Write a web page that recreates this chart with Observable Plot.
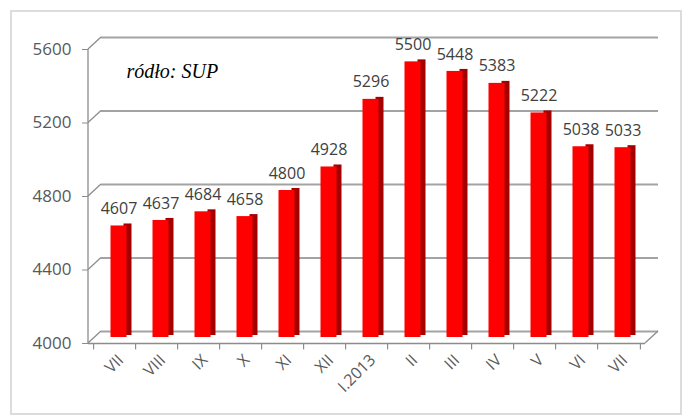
<!DOCTYPE html>
<html><head><meta charset="utf-8">
<script src="https://cdn.jsdelivr.net/npm/d3@7"></script>
<script src="https://cdn.jsdelivr.net/npm/@observablehq/plot@0.6"></script>
<style>
body{margin:0;background:#fff;}
#wrap{position:relative;width:690px;height:419px;}
#border{position:absolute;left:10px;top:10px;width:672px;height:405px;border:2px solid #dcdcdc;box-sizing:border-box;pointer-events:none;}
#wrap svg{position:absolute;left:0;top:0;}
</style>
</head><body>
<div id="wrap"><div id="border"></div></div>
<script>
const months = ["VII","VIII","IX","X","XI","XII","I.2013","II","III","IV","V","VI","VII"];
const values = [4607,4637,4684,4658,4800,4928,5296,5500,5448,5383,5222,5038,5033];
const yTicks = [4000,4400,4800,5200,5600];
const note = "ródło: SUP";

const data = values.map((v, i) => ({i, v}));
const idx = d3.range(months.length);
const DX = 13, DY = -12;       // depth of the 3D box
const step = (690 - 88 - 45) / months.length;

const frame3d = Plot.ruleY(yTicks, {
  render(I, scales, values, dims) {
    const g = d3.create("svg:g").attr("stroke", "#8c8c8c").attr("stroke-width", 1.3).attr("fill", "none");
    const L = dims.marginLeft, R = dims.width - dims.marginRight;
    for (const t of yTicks) {
      const y = scales.y(t);
      g.append("line").attr("x1", L).attr("y1", y).attr("x2", L + DX).attr("y2", y + DY);
    }
    const y0 = scales.y(yTicks[0]);
    g.append("line").attr("x1", R).attr("y1", y0).attr("x2", R + DX).attr("y2", y0 + DY);
    g.append("line").attr("x1", L).attr("y1", scales.y(yTicks[yTicks.length-1])).attr("x2", L).attr("y2", y0);
    return g.node();
  }
});

const monthLabels = Plot.ruleX(idx, {
  x: d => d,
  render(I, scales, values, dims) {
    const g = d3.create("svg:g").attr("fill", "#595959").attr("font-size", 16).attr("font-family", "Open Sans").attr("text-anchor", "end");
    const y0 = scales.y(yTicks[0]);
    const bw = scales.x.bandwidth ? scales.x.bandwidth() : 0;
    for (const i of idx) {
      const x = scales.x(i) + bw / 2 + 6;
      g.append("text").attr("transform", `translate(${x},${y0 + 14}) rotate(-45)`).attr("dy", "0.35em").text(months[i]);
    }
    return g.node();
  }
});

const chart = Plot.plot({
  width: 690, height: 419,
  marginLeft: 88, marginRight: 45, marginTop: 49, marginBottom: 76,
  style: {background: "transparent", fontFamily: "Open Sans"},
  x: {type: "band", domain: idx, paddingInner: 0.49, paddingOuter: 0.245, axis: null},
  y: {domain: [4000, 5600], axis: null},
  marks: [
    Plot.ruleY(yTicks, {dx: DX, dy: DY, stroke: "#a3a3a3", strokeWidth: 1.8}),
    Plot.ruleY([yTicks[0]], {stroke: "#8c8c8c", strokeWidth: 1.3}),
    frame3d,
    Plot.ruleX(idx, {x: d => d, y1: 4000, y2: 3965, dx: -step / 2, stroke: "#8c8c8c", strokeWidth: 1.2}),
    Plot.ruleX([idx[idx.length-1]], {x: d => d, y1: 4000, y2: 3965, dx: step / 2, stroke: "#8c8c8c", strokeWidth: 1.2}),
    Plot.axisY({ticks: yTicks, label: null, tickSize: 6, tickPadding: 11, fontSize: 17, color: "#595959", stroke: "#8c8c8c", tickFormat: d => String(d)}),
    monthLabels,
    Plot.barY(data, {x: "i", y1: 4000, y2: "v", fill: "#a50000", dx: 6.5, dy: -8, insetLeft: 13}),
    Plot.barY(data, {x: "i", y1: 4000, y2: "v", fill: "#ff0000", dx: 6.5, dy: -6, insetRight: 5}),
    Plot.text(data, {x: "i", y: "v", text: d => String(d.v), dx: 4, dy: -23, fontSize: 16, fill: "#404040"}),
    Plot.text([note], {frameAnchor: "top-left", dx: 38, dy: 28, lineAnchor: "bottom", textAnchor: "start",
      fontSize: 20, fontStyle: "italic", fontFamily: "Liberation Serif", fill: "#000"})
  ]
});
document.getElementById("wrap").appendChild(chart);
</script>
</body></html>
